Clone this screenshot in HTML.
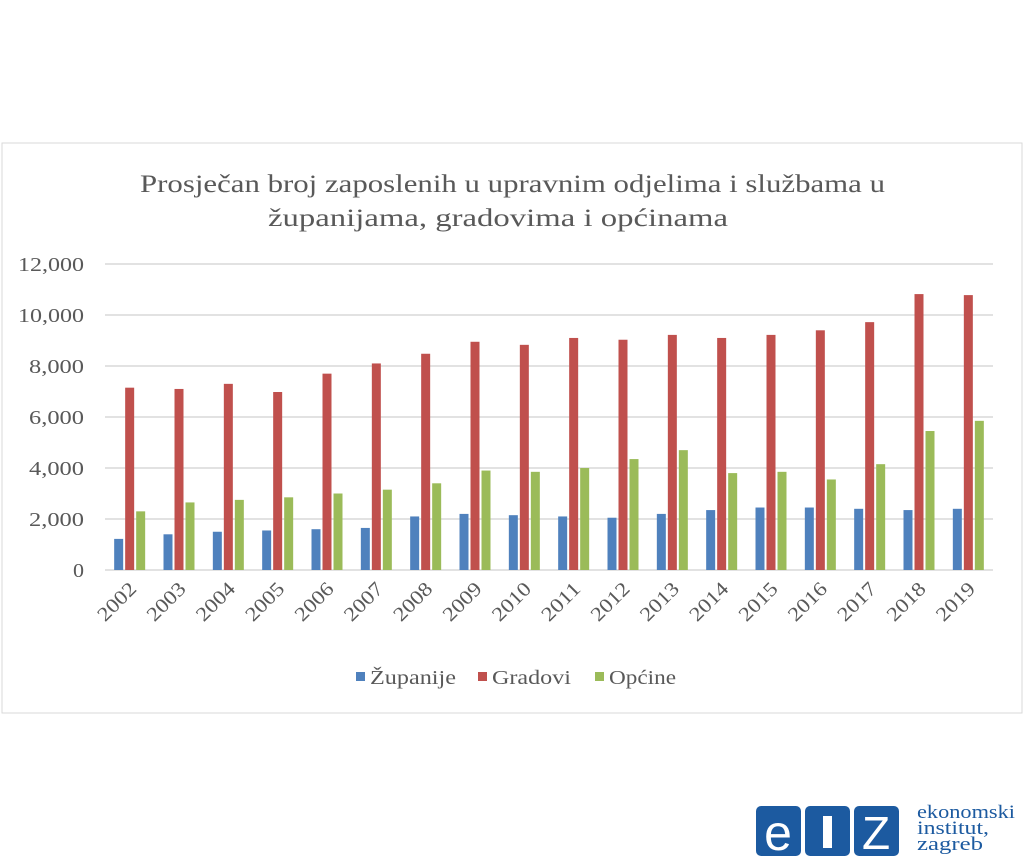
<!DOCTYPE html>
<html><head><meta charset="utf-8"><style>
body{margin:0;width:1024px;height:858px;background:#fff;overflow:hidden;font-family:"Liberation Serif",serif}
svg{position:absolute;left:0;top:0}
</style></head><body>
<svg width="1024" height="858">
<rect x="2" y="143" width="1020" height="570" fill="#fff" stroke="#d9d9d9"/>
<text x="140" y="192" font-size="25" textLength="745" lengthAdjust="spacingAndGlyphs" fill="#595959">Prosječan broj zaposlenih u upravnim odjelima i službama u</text>
<text x="268" y="226" font-size="25" textLength="460" lengthAdjust="spacingAndGlyphs" fill="#595959">županijama, gradovima i općinama</text>
<g id="grid"></g><g id="bars"></g><g id="xl"></g>
<g>
<rect x="356" y="672" width="9" height="9" fill="#4f81bd"/>
<text x="370" y="684" font-size="20" textLength="86" lengthAdjust="spacingAndGlyphs" fill="#595959">Županije</text>
<rect x="478" y="672" width="9" height="9" fill="#c0504d"/>
<text x="492" y="684" font-size="20" textLength="79" lengthAdjust="spacingAndGlyphs" fill="#595959">Gradovi</text>
<rect x="595" y="672" width="9" height="9" fill="#9bbb59"/>
<text x="609" y="684" font-size="20" textLength="67" lengthAdjust="spacingAndGlyphs" fill="#595959">Općine</text>
</g>
<g>
<rect x="756" y="806" width="45" height="50" rx="5" fill="#1c5aa0"/>
<rect x="805" y="806" width="45" height="50" rx="5" fill="#1c5aa0"/>
<rect x="854" y="806" width="45" height="50" rx="5" fill="#1c5aa0"/>
<text x="778" y="850" text-anchor="middle" font-family="Liberation Sans,sans-serif" font-size="50" fill="#fff">e</text>
<rect x="823" y="816" width="9" height="32" fill="#fff"/>
<text x="876" y="849" text-anchor="middle" font-family="Liberation Sans,sans-serif" font-size="46" fill="#fff">Z</text>
<text x="917" y="818" font-size="19" textLength="98" lengthAdjust="spacingAndGlyphs" fill="#1c5aa0">ekonomski</text>
<text x="917" y="834" font-size="19" textLength="72" lengthAdjust="spacingAndGlyphs" fill="#1c5aa0">institut,</text>
<text x="917" y="850" font-size="19" textLength="66" lengthAdjust="spacingAndGlyphs" fill="#1c5aa0">zagreb</text>
</g>
</svg>
<script>
const years=["2002","2003","2004","2005","2006","2007","2008","2009","2010","2011","2012","2013","2014","2015","2016","2017","2018","2019"];
const zupanije=[1220,1400,1500,1550,1600,1650,2100,2200,2150,2100,2050,2200,2350,2450,2450,2400,2350,2400];
const gradovi=[7150,7100,7300,6980,7700,8100,8480,8950,8830,9100,9030,9220,9100,9220,9400,9720,10820,10780];
const opcine=[2300,2650,2750,2850,3000,3150,3400,3900,3850,4000,4350,4700,3800,3850,3550,4150,5450,5850];
const ticks=[0,2000,4000,6000,8000,10000,12000];
const NS="http://www.w3.org/2000/svg";
const x0=105,x1=993,yb=570,yt=264,vmax=12000;
const y=v=>yb-(yb-yt)*v/vmax;
const cw=(x1-x0)/years.length;
function mk(t,a,p){const e=document.createElementNS(NS,t);for(const k in a)e.setAttribute(k,a[k]);p.appendChild(e);return e;}
const G=document.getElementById('grid'),B=document.getElementById('bars'),X=document.getElementById('xl');
ticks.forEach(t=>{
 const l=mk('line',{x1:x0,x2:x1,y1:y(t),y2:y(t),stroke:'#d9d9d9','stroke-width':1.5},G);
 
 
 const s=t.toLocaleString('en-US');
 const tx=mk('text',{x:84,y:y(t)+7,'text-anchor':'end','font-size':20,fill:'#595959',textLength:s.length*11,lengthAdjust:'spacingAndGlyphs'},G);
 tx.textContent=s;
 
 
});
const series=[[zupanije,'#4f81bd','zupanije'],[gradovi,'#c0504d','gradovi'],[opcine,'#9bbb59','opcine']];
years.forEach((yr,i)=>{
 const cx=x0+cw*(i+0.5);
 series.forEach((s,j)=>{
  const bx=cx-15.5+j*11;
  const r=mk('rect',{x:bx,y:y(s[0][i]),width:9,height:yb-y(s[0][i]),fill:s[1]},B);
  
  
 });
 const t=mk('text',{x:cx+8,y:590,'text-anchor':'end','font-size':20,fill:'#595959',textLength:46,lengthAdjust:'spacingAndGlyphs',transform:`rotate(-45 ${cx+8} 590)`},X);
 t.textContent=yr;
 
 
});
</script>
</body></html>
